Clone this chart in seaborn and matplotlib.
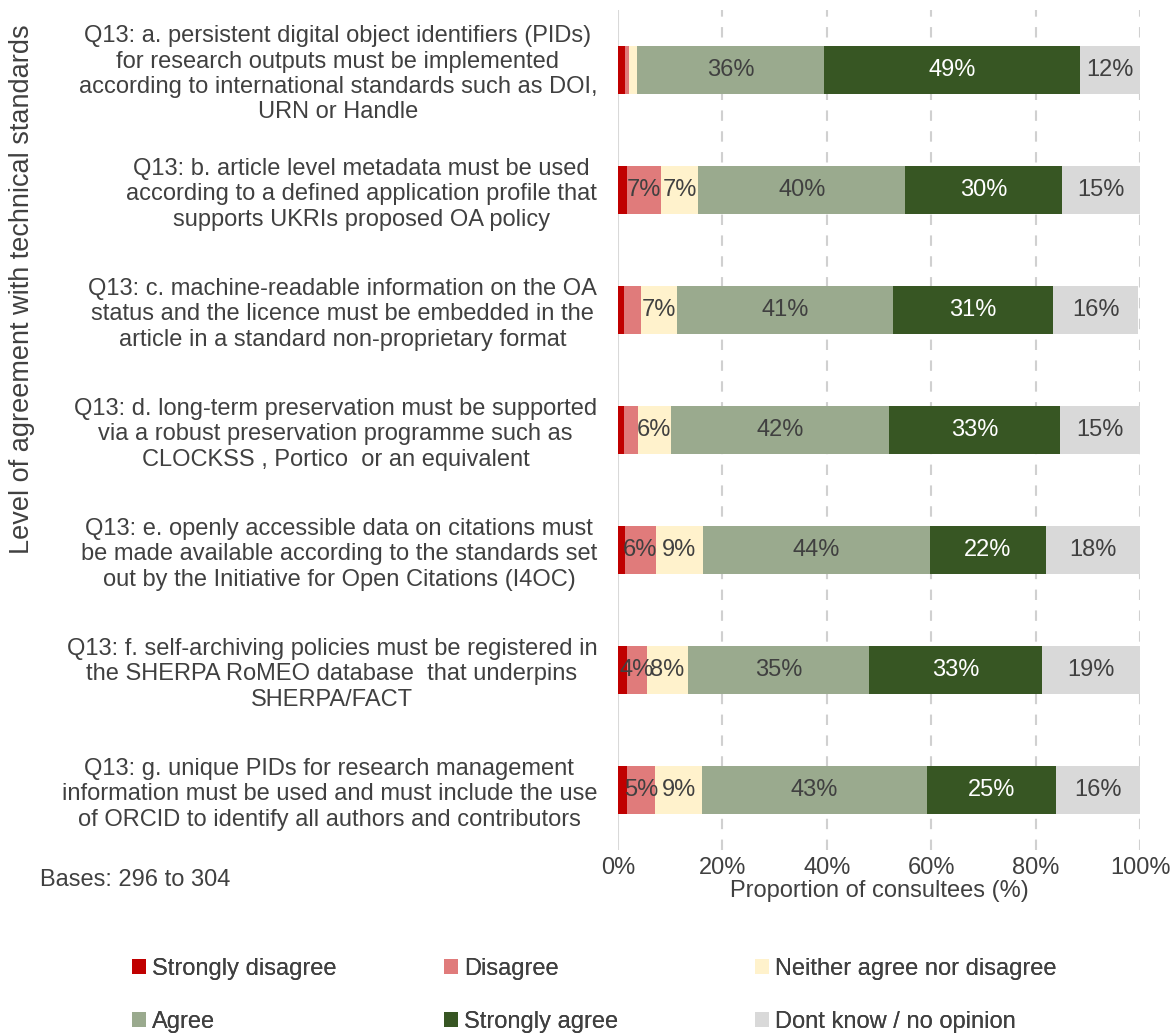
import numpy as np
import pandas as pd
import seaborn as sns
from matplotlib import pyplot as plt
from matplotlib.patches import Patch

questions = [
    "Q13: a. persistent digital object identifiers (PIDs)\nfor research outputs must be implemented\naccording to international standards such as DOI,\nURN or Handle",
    "Q13: b. article level metadata must be used\naccording to a defined application profile that\nsupports UKRIs proposed OA policy",
    "Q13: c. machine-readable information on the OA\nstatus and the licence must be embedded in the\narticle in a standard non-proprietary format",
    "Q13: d. long-term preservation must be supported\nvia a robust preservation programme such as\nCLOCKSS , Portico  or an equivalent",
    "Q13: e. openly accessible data on citations must\nbe made available according to the standards set\nout by the Initiative for Open Citations (I4OC)",
    "Q13: f. self-archiving policies must be registered in\nthe SHERPA RoMEO database  that underpins\nSHERPA/FACT",
    "Q13: g. unique PIDs for research management\ninformation must be used and must include the use\nof ORCID to identify all authors and contributors",
]

responses = ["Strongly disagree", "Disagree", "Neither agree nor disagree",
             "Agree", "Strongly agree", "Dont know / no opinion"]

strongly_disagree = [1.3, 1.7, 1.1, 1.1, 1.3, 1.7, 1.7]
disagree = [0.9, 6.6, 3.3, 2.7, 5.9, 3.8, 5.4]
neither = [1.4, 7.1, 6.9, 6.3, 9.0, 8.0, 9.0]
agree = [35.9, 39.6, 41.4, 41.9, 43.5, 34.6, 43.1]
strongly_agree = [49.0, 30.0, 30.6, 32.7, 22.2, 33.1, 24.7]
dont_know = [11.5, 15.0, 16.4, 15.3, 18.1, 18.8, 16.1]

colors = ["#C00000", "#E07B7B", "#FFF2CC", "#9AAA8E", "#375623", "#D9D9D9"]
text_colors = ["#404040", "#404040", "#404040", "#404040", "white", "#404040"]

df = pd.DataFrame(
    dict(zip(responses, [strongly_disagree, disagree, neither, agree,
                         strongly_agree, dont_know])),
    index=questions,
)
cum = df.cumsum(axis=1)

FS = 17
plt.rcParams["font.family"] = ["Liberation Sans", "DejaVu Sans"]
fig = plt.figure(figsize=(11.76, 10.33), dpi=100)
ax = fig.add_axes([0.5255, 0.1771, 0.4439, 0.8132])

# stacked bars drawn as overlapping cumulative totals, widest first
for resp, col in reversed(list(zip(responses, colors))):
    sns.barplot(x=cum[resp].values, y=questions, orient="h", color=col,
                width=0.4, saturation=1, ax=ax, zorder=2)

for i, q in enumerate(questions):
    for resp, tc in zip(responses, text_colors):
        v = df.loc[q, resp]
        if round(v) >= 4:
            ax.text(cum.loc[q, resp] - v / 2, i, f"{round(v)}%", ha="center",
                    va="center", fontsize=FS, color=tc, zorder=3)

ax.set_xlim(0, 100)
ax.set_xticks(range(0, 101, 20))
ax.set_xticklabels([f"{t}%" for t in range(0, 101, 20)], fontsize=FS,
                   color="#404040")
for t in range(20, 101, 20):
    ax.axvline(t, color="#D0D0D0", linestyle=(0, (5, 5)), linewidth=1.5,
               zorder=1)
ax.axvline(0, color="#D9D9D9", linewidth=1.5, zorder=1)
ax.tick_params(axis="both", length=0, pad=5)
ax.tick_params(axis="y", labelsize=FS, labelcolor="#404040", pad=15)
for lbl in ax.get_yticklabels():
    lbl.set_multialignment("center")
for s in ax.spines.values():
    s.set_visible(False)
ax.set_xlabel("Proportion of consultees (%)", fontsize=FS, color="#404040",
              labelpad=1)
ax.set_ylabel("")

fig.text(0.019, 0.72, "Level of agreement with technical standards",
         rotation=90, ha="center", va="center", fontsize=19.5, color="#404040")
fig.text(0.034, 0.148, "Bases: 296 to 304", ha="left", va="center",
         fontsize=FS, color="#404040")

# legend: three equally spaced columns, as in the original
col_x = [132, 444, 755]
for c in range(3):
    idx = [c, c + 3]
    leg = fig.legend(
        [Patch(facecolor=colors[k], edgecolor="none") for k in idx],
        [responses[k] for k in idx],
        loc="upper left", bbox_to_anchor=(col_x[c] / 1176, 1 - 958 / 1033),
        frameon=False, fontsize=FS, handlelength=0.6, handleheight=0.6,
        handletextpad=0.25, labelspacing=1.3, borderpad=0, borderaxespad=0,
        labelcolor="#404040",
    )
    fig.add_artist(leg)

fig.savefig("out.png", dpi=100)
